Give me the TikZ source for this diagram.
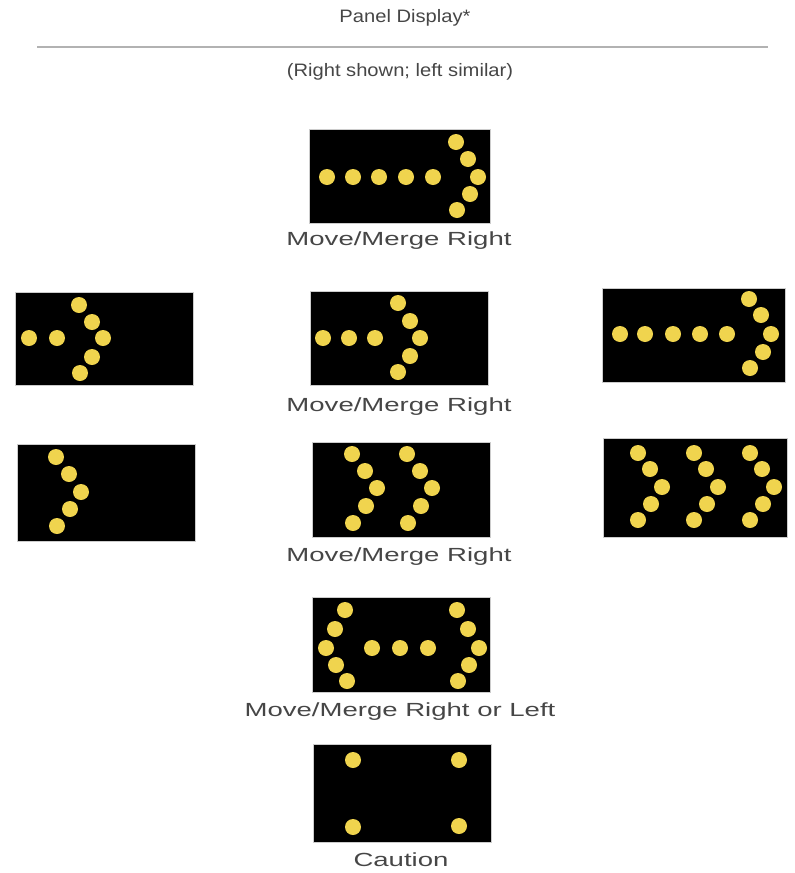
\documentclass[tikz,border=0pt]{standalone}
\usepackage{fontspec}
\setmainfont{Liberation Sans}
\definecolor{lampyellow}{RGB}{240,212,78}
\definecolor{inkgray}{RGB}{70,70,70}
\tikzset{
  panel/.style={fill=black,draw=gray!40,line width=0.8pt},
  lamp/.style={fill=lampyellow},
  caption/.style={font=\fontsize{19}{22}\selectfont,text=inkgray,xscale=1.45,inner sep=0pt},
  heading/.style={font=\fontsize{18}{21}\selectfont,text=inkgray,xscale=1.12,inner sep=0pt}
}
\begin{document}
\begin{tikzpicture}[x=1pt,y=-1pt]
  \useasboundingbox (0,0) rectangle (795,873);
  % heading
  \node[heading] (title) at (405,18) {Panel Display*};
  \draw[gray!60,line width=1.5pt] (37,47) -- (768,47);
  \node[heading] (sub) at (400,72) {(Right shown; left similar)};
  % row 1
  \fill[panel] (309,129) rectangle (490,223);
  \foreach \x/\y in {327/177,353/177,379/177,406/177,433/177,
                     456/142,468/159,478/177,470/194,457/210}{
    \fill[lamp] (\x,\y) circle (8pt);
  }
  \node[caption] (lab1) at (399,241) {Move/Merge Right};
  % row 2
  \fill[panel] (15,292) rectangle (193,385);
  \foreach \x/\y in {29/338,57/338,
                     79/305,92/322,103/338,92/357,80/373}{
    \fill[lamp] (\x,\y) circle (8pt);
  }
  \fill[panel] (310,291) rectangle (488,385);
  \foreach \x/\y in {323/338,349/338,375/338,
                     398/303,410/321,420/338,410/356,398/372}{
    \fill[lamp] (\x,\y) circle (8pt);
  }
  \fill[panel] (602,288) rectangle (785,382);
  \foreach \x/\y in {620/334,645/334,673/334,700/334,727/334,
                     749/299,761/315,771/334,763/352,750/368}{
    \fill[lamp] (\x,\y) circle (8pt);
  }
  \node[caption] (lab2) at (399,407) {Move/Merge Right};
  % row 3
  \fill[panel] (17,444) rectangle (195,541);
  \foreach \x/\y in {56/457,69/474,81/492,70/509,57/526}{
    \fill[lamp] (\x,\y) circle (8pt);
  }
  \fill[panel] (312,442) rectangle (490,537);
  \foreach \dx in {0,55}{
    \foreach \x/\y in {352/454,365/471,377/488,366/506,353/523}{
      \fill[lamp] (\x+\dx,\y) circle (8pt);
    }
  }
  \fill[panel] (603,438) rectangle (787,537);
  \foreach \dx in {0,56,112}{
    \foreach \x/\y in {638/453,650/469,662/487,651/504,638/520}{
      \fill[lamp] (\x+\dx,\y) circle (8pt);
    }
  }
  \node[caption] (lab3) at (399,557) {Move/Merge Right};
  % row 4
  \fill[panel] (312,597) rectangle (490,692);
  \foreach \x/\y in {345/610,335/629,326/648,336/665,347/681,
                     372/648,400/648,428/648,
                     457/610,468/629,479/648,469/665,458/681}{
    \fill[lamp] (\x,\y) circle (8pt);
  }
  \node[caption] (lab4) at (400,712) {Move/Merge Right or Left};
  % row 5
  \fill[panel] (313,744) rectangle (491,842);
  \foreach \x/\y in {353/760,459/760,353/827,459/826}{
    \fill[lamp] (\x,\y) circle (8pt);
  }
  \node[caption] (lab5) at (401,860) {Caution};
\end{tikzpicture}
\end{document}
